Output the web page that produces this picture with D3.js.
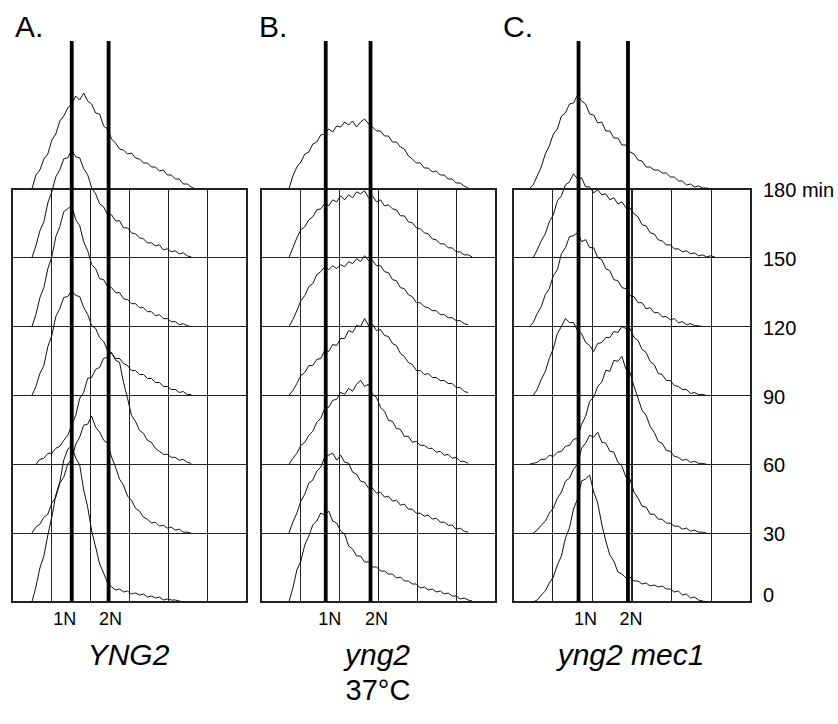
<!DOCTYPE html>
<meta charset="utf-8">
<title>DNA content, 37°C</title>
<style>

body {
  margin: 0;
  background: #fff;
  font-family: "Liberation Sans", Arial, Helvetica, sans-serif;
}

svg {
  display: block;
}

.grid rect, .grid line {
  fill: none;
  stroke: #222;
  stroke-width: 1.2;
  shape-rendering: crispEdges;
}

.trace {
  fill: none;
  stroke: #111;
  stroke-width: 1;
  stroke-linejoin: round;
}

.ploidy {
  stroke: #000;
  stroke-width: 3.8;
}

text {
  fill: #000;
}

</style>

<body>
  <div id='graph'></div>
</body>

<script src="https://cdn.jsdelivr.net/npm/d3@7"></script>
<script>

// time points, top row to bottom row
var times = [180, 150, 120, 90, 60, 30, 0];

// DNA content channels where the traces were read
var channels = [16, 20, 24, 28, 32, 36, 40, 44, 48, 52, 56, 60, 64, 68, 72, 76, 80, 84, 88, 92,
  96, 100, 104, 108, 112, 116, 120, 124, 128, 132, 136, 140, 144, 148, 152, 156, 160, 164, 168,
  172, 176, 180, 184, 188, 192, 196, 200, 204, 208, 212];

var letters = ['A.', 'B.', 'C.'];
var strains = ['YNG2', 'yng2', 'yng2 mec1'];

// 1N / 2N marker positions (channel) for each panel
var oneN = [60, 65, 65];
var twoN = [97, 110, 114];

// first channel of each trace, one per time point
var startA = [20, 20, 20, 20, 24, 20, 20];
var startB = [28, 28, 28, 28, 28, 28, 28];
var startC = [16, 20, 16, 20, 16, 20, 20];

// cell counts, 4-channel steps from the start channel
var histA = [
  [0,14,19,30,35,49,55,68,73,81,85,93,89,96,88,85,76,75,63,60,50,46,40,39,35,36,31,30,26,26,22,22,18,19,14,14,10,10,5,5,2,0],
  [0,12,27,36,55,66,81,88,99,100,108,101,100,89,83,70,64,54,51,43,43,37,37,30,30,25,24,20,19,15,15,12,13,8,9,6,7,4,5,2,1],
  [0,12,29,39,58,70,90,100,115,118,121,107,101,85,76,62,58,48,47,40,39,34,34,28,27,23,23,19,19,15,15,11,12,8,8,5,5,2,3,1,0],
  [0,9,22,30,49,60,79,87,98,99,105,100,99,88,81,70,67,58,54,45,42,37,37,32,30,25,25,21,21,17,17,13,13,9,9,6,6,3,4,1,1],
  [0,5,6,11,11,16,18,24,29,39,49,66,72,86,87,95,97,106,107,112,104,102,82,66,49,43,34,31,24,22,16,13,10,10,7,7,4,5,2,1],
  [0,6,9,16,19,30,36,50,56,69,74,89,96,108,109,117,106,101,93,90,76,66,54,48,37,33,25,22,16,14,10,11,7,8,5,6,3,4,1,1,0],
  [0,15,34,46,67,85,107,120,142,153,156,144,137,112,95,71,55,38,29,19,15,12,13,10,11,8,9,7,8,5,6,4,5,2,3,2,2,1,0]
];

var histB = [
  [0,13,22,27,35,37,45,47,54,55,60,57,63,62,67,64,68,62,67,70,65,62,58,58,53,53,47,47,42,40,33,30,26,26,21,21,17,18,14,14,10,10,6,6,3,1],
  [0,10,20,28,31,38,41,48,49,54,52,58,56,62,58,63,60,66,64,67,60,62,56,58,52,53,49,48,42,42,36,35,30,29,25,24,19,18,14,14,10,10,6,6,3,3,1],
  [0,7,16,26,31,40,43,52,55,60,57,61,58,62,60,65,63,68,65,71,66,66,61,61,55,54,47,46,39,38,32,30,24,24,20,19,16,16,12,12,9,9,6,6,3,2],
  [0,5,12,20,23,30,30,36,37,45,44,51,50,57,57,65,63,70,69,77,70,71,65,66,60,59,52,50,42,39,33,31,25,25,21,22,18,18,15,15,12,12,8,8,4,3],
  [0,6,11,19,22,29,33,42,46,56,57,64,65,72,70,76,73,80,84,78,80,70,67,57,53,44,43,36,35,28,28,22,23,19,19,16,16,12,13,9,10,6,7,3,3,1],
  [0,11,20,32,39,50,53,62,66,76,78,80,73,78,71,70,61,59,52,51,45,45,40,41,36,37,32,33,28,29,24,24,20,20,17,18,14,15,11,11,8,8,4,5,2,1],
  [0,14,32,41,57,66,77,81,89,87,91,81,79,71,68,56,53,46,46,40,40,35,35,31,31,28,28,24,25,21,21,18,18,14,15,12,13,10,11,8,9,6,6,3,4,2,1]
];

var histC = [
  [0,4,13,22,35,43,55,60,73,76,85,86,94,88,85,75,74,66,67,58,58,51,51,44,44,37,35,29,28,22,22,19,19,16,16,12,12,8,8,4,5,2,3,1,1,0],
  [0,8,17,24,36,43,57,62,73,76,84,79,80,71,71,65,68,63,64,58,60,54,56,50,50,44,41,33,32,25,24,18,17,13,13,9,9,6,7,4,5,2,3,1,2,1],
  [0,4,13,20,32,38,51,57,73,79,90,91,94,85,87,79,79,69,67,58,56,47,46,39,38,31,30,24,24,18,19,14,14,10,10,7,8,4,5,2,3,1,1,0],
  [0,6,16,24,37,47,62,69,77,73,73,65,62,53,50,44,52,53,58,58,64,63,69,67,67,58,55,46,43,34,31,22,21,15,15,10,9,6,6,2,3,1,1,0],
  [0,1,2,5,5,9,8,12,13,18,19,25,26,40,48,63,67,78,82,94,93,104,103,108,95,92,78,66,54,49,38,32,23,21,14,13,8,7,4,5,2,3,1,1,0],
  [0,3,8,12,20,25,35,41,52,55,64,69,85,90,98,96,101,91,90,82,81,71,67,56,54,41,35,27,26,19,19,14,14,10,10,7,7,4,5,2,3,1,1,0],
  [0,2,7,11,19,25,37,46,64,74,93,103,121,123,127,110,99,78,61,47,41,30,28,24,25,21,21,18,19,16,17,15,16,13,13,10,11,7,8,4,5,2,1,0]
]

var hists = [histA, histB, histC],
    starts = [startA, startB, startC];

// layout
var W = 838, H = 724,
    gridTop = 189, gridBottom = 602, markTop = 41,
    panelLeft = [12, 261, 513],
    panelWidth = [235, 235, 238],
    letterX = [15, 259, 503],
    labelShift = [[-7, 2], [4, 6], [7, 3]];

var svg = d3.select('#graph').append('svg')
    .attr('width', W)
    .attr('height', H);

var yBase = d3.scalePoint().domain(times).range([gridTop, gridBottom]),
    yCount = d3.scaleLinear().domain([0, 100]).range([0, 100]);

strains.forEach(function(strain, p){
  var left = panelLeft[p], w = panelWidth[p];
  var x = d3.scaleLinear().domain([0, 236]).range([left, left + w]);

  var g = svg.append('g');

  var grid = g.append('g').attr('class', 'grid');
  grid.append('rect')
      .attr('x', left).attr('y', gridTop)
      .attr('width', w).attr('height', gridBottom - gridTop);

  grid.selectAll('line.h')
    .data(times.slice(1, -1))
    .enter().append('line')
      .attr('class', 'h')
      .attr('x1', left).attr('x2', left + w)
      .attr('y1', function(d){ return yBase(d) })
      .attr('y2', function(d){ return yBase(d) });

  grid.selectAll('line.v')
    .data(d3.range(1, 6).map(function(i){ return 236 * i / 6 }))
    .enter().append('line')
      .attr('class', 'v')
      .attr('x1', x).attr('x2', x)
      .attr('y1', gridTop).attr('y2', gridBottom);

  // histogram traces
  hists[p].forEach(function(vals, r){
    var base = yBase(times[r]),
        i0 = channels.indexOf(starts[p][r]);
    var line = d3.line()
        .x(function(d, i){ return x(channels[i0 + i]) })
        .y(function(d){ return base - yCount(d) });
    g.append('path')
        .attr('class', 'trace')
        .attr('d', line(vals));
  });

  // 1N and 2N markers
  [oneN[p], twoN[p]].forEach(function(c, k){
    g.append('line')
        .attr('class', 'ploidy')
        .attr('x1', x(c)).attr('x2', x(c))
        .attr('y1', markTop).attr('y2', gridBottom);
    g.append('text')
        .attr('x', x(c) + labelShift[p][k])
        .attr('y', 625)
        .attr('text-anchor', 'middle')
        .style('font-size', '18px')
        .text(k ? '2N' : '1N');
  });

  g.append('text')
      .attr('x', letterX[p]).attr('y', 37)
      .style('font-size', '30px')
      .text(letters[p]);

  g.append('text')
      .attr('x', left + w / 2 - 1).attr('y', 665)
      .attr('text-anchor', 'middle')
      .style('font-size', '30px')
      .style('font-style', 'italic')
      .text(strain);
});

// time labels on the right
svg.selectAll('text.time')
  .data(times)
  .enter().append('text')
    .attr('class', 'time')
    .attr('x', 763)
    .attr('y', function(d){ return yBase(d) + (d === 0 ? 0 : 8) })
    .style('font-size', '20px')
    .text(function(d, i){ return i === 0 ? d + ' min' : d });

svg.append('text')
    .attr('x', 378).attr('y', 700)
    .attr('text-anchor', 'middle')
    .style('font-size', '29px')
    .text('37°C');

</script>
